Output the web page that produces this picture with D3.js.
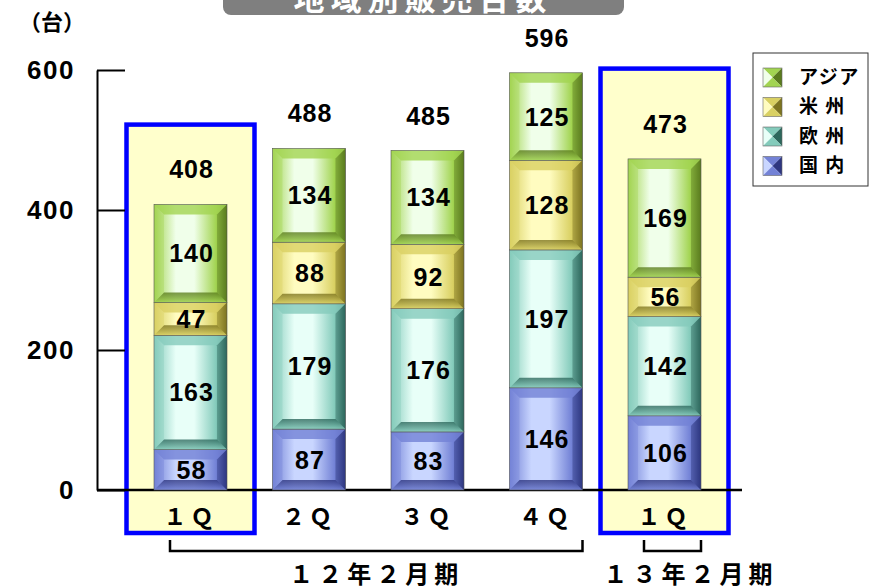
<!DOCTYPE html>
<html lang="ja">
<head>
<meta charset="utf-8">
<title>地域別販売台数</title>
<script src="https://d3js.org/d3.v7.js"></script>
<style>
  body { margin: 0; background: #fff; }
  text { font-family: "Liberation Sans", "Noto Sans CJK JP", sans-serif; font-weight: bold; }
  .jp { font-family: "Noto Sans CJK JP", sans-serif; }
</style>
</head>
<body>
<div id="chart"></div>
<script>
// data
const ids = ["12-1Q", "12-2Q", "12-3Q", "12-4Q", "13-1Q"];
const quarterLabels = ["１Ｑ", "２Ｑ", "３Ｑ", "４Ｑ", "１Ｑ"];
const domestic = [58, 87, 83, 146, 106];   // 国内
const europe = [163, 179, 176, 197, 142];  // 欧州
const americas = [47, 88, 92, 128, 56];    // 米州
const asia = [140, 134, 134, 125, 169];    // アジア
const totals = [408, 488, 485, 596, 473];
const yTicks = [0, 200, 400, 600];
const seriesNames = ["国内", "欧州", "米州", "アジア"];
const legendKeys = ["アジア", "米州", "欧州", "国内"];
const legendNames = ["アジア", "米 州", "欧 州", "国 内"];
const fiscalGroups = [
  { label: "１２年２月期", from: 0, to: 3 },
  { label: "１３年２月期", from: 4, to: 4 }
];
const highlighted = [{ idx: 0, top: 522 }, { idx: 4, top: 602 }];

// colours per series: mid, light, dark
const palette = {
  "国内": { mid: "#7382d6", light: "#c9d6ff", dark: "#2e3680" },
  "欧州": { mid: "#84cbbb", light: "#e8fff8", dark: "#2d675c" },
  "米州": { mid: "#d9d062", light: "#fffcc0", dark: "#7d7420" },
  "アジア": { mid: "#a2d451", light: "#f0ffea", dark: "#5a7b1e" }
};

const W = 870, H = 586;
const svg = d3.select("#chart").append("svg")
  .attr("width", W).attr("height", H);

const defs = svg.append("defs");
seriesNames.forEach((s, i) => {
  const c = palette[s];
  const g = defs.append("linearGradient").attr("id", "grad" + i)
    .attr("x1", "0%").attr("x2", "100%").attr("y1", "0%").attr("y2", "0%");
  g.append("stop").attr("offset", "0%").attr("stop-color", c.mid);
  g.append("stop").attr("offset", "30%").attr("stop-color", c.light);
  g.append("stop").attr("offset", "55%").attr("stop-color", c.light);
  g.append("stop").attr("offset", "85%").attr("stop-color", c.mid);
  g.append("stop").attr("offset", "100%").attr("stop-color", c.dark);
  const gb = defs.append("linearGradient").attr("id", "bot" + i)
    .attr("x1", "0%").attr("x2", "0%").attr("y1", "0%").attr("y2", "100%");
  gb.append("stop").attr("offset", "0%").attr("stop-color", c.dark).attr("stop-opacity", 0.8);
  gb.append("stop").attr("offset", "100%").attr("stop-color", c.mid).attr("stop-opacity", 0.9);
});

const x = d3.scaleBand().domain(ids).range([154, 701]).paddingInner(0.384).paddingOuter(0);
const y = d3.scaleLinear().domain([0, 600]).range([490, 70]);
const bw = x.bandwidth();

// title (cut off by the top edge)
svg.append("rect").attr("x", 223).attr("y", -25).attr("width", 401).attr("height", 40)
  .attr("rx", 8).attr("fill", "#7f7f7f");
svg.append("text").attr("class", "jp").attr("x", 423).attr("y", 10)
  .attr("text-anchor", "middle").attr("font-size", 31).attr("letter-spacing", 6)
  .attr("fill", "#fff").text("地域別販売台数");

// highlight boxes
svg.selectAll(".hl").data(highlighted).join("rect")
  .attr("class", "hl")
  .attr("x", d => x(ids[d.idx]) + bw / 2 - 64)
  .attr("y", d => y(d.top))
  .attr("width", 128)
  .attr("height", d => 533 - y(d.top))
  .attr("fill", "#ffffcc").attr("stroke", "#0000ff").attr("stroke-width", 4.5);

// y axis: line + inward ticks
svg.append("g").attr("transform", "translate(97,0)")
  .call(d3.axisRight(y).tickValues(yTicks).tickSize(28).tickSizeOuter(0).tickFormat(""))
  .call(g => g.selectAll("path,line").attr("stroke", "#000").attr("stroke-width", 2));
svg.selectAll(".ylab").data(yTicks).join("text")
  .attr("class", "ylab")
  .attr("x", 75).attr("y", d => y(d)).attr("dy", "0.36em")
  .attr("text-anchor", "end").attr("font-size", 26).attr("letter-spacing", 1.5)
  .text(d => d);
svg.append("text").attr("class", "jp").attr("x", 52).attr("y", 30)
  .attr("text-anchor", "middle").attr("font-size", 22).text("（台）");

// baseline
svg.append("line").attr("x1", 97).attr("x2", 742).attr("y1", y(0)).attr("y2", y(0))
  .attr("stroke", "#000").attr("stroke-width", 2.5);

// stacked bars
const rows = ids.map((id, i) => ({ id, "国内": domestic[i], "欧州": europe[i], "米州": americas[i], "アジア": asia[i] }));
const stacked = d3.stack().keys(seriesNames)(rows);

stacked.forEach((layer, si) => {
  const c = palette[layer.key];
  const g = svg.append("g");
  layer.forEach((d, i) => {
    const x0 = x(ids[i]), x1 = x0 + bw;
    const yt = y(d[1]), yb = y(d[0]);
    const h = yb - yt;
    const b = Math.min(10, h / 3.2);
    const seg = g.append("g");
    seg.append("rect").attr("x", x0).attr("y", yt).attr("width", bw).attr("height", h)
      .attr("fill", `url(#grad${si})`);
    // top bevel
    seg.append("path")
      .attr("d", d3.line()([[x0, yt], [x1, yt], [x1 - b, yt + b], [x0 + b, yt + b]]) + "Z")
      .attr("fill", c.mid).attr("opacity", 0.8);
    // bottom bevel
    seg.append("path")
      .attr("d", d3.line()([[x0, yb], [x1, yb], [x1 - b, yb - b], [x0 + b, yb - b]]) + "Z")
      .attr("fill", `url(#bot${si})`);
    // side bevels
    seg.append("path")
      .attr("d", d3.line()([[x0, yt], [x0 + b, yt + b], [x0 + b, yb - b], [x0, yb]]) + "Z")
      .attr("fill", c.mid).attr("opacity", 0.35);
    seg.append("path")
      .attr("d", d3.line()([[x1, yt], [x1 - b, yt + b], [x1 - b, yb - b], [x1, yb]]) + "Z")
      .attr("fill", c.dark).attr("opacity", 0.4);
    seg.append("rect").attr("x", x0).attr("y", yt).attr("width", bw).attr("height", h)
      .attr("fill", "none").attr("stroke", "#555").attr("stroke-width", 0.6);
    seg.append("text").attr("x", x0 + bw / 2 + 1).attr("y", (yt + yb) / 2).attr("dy", "0.36em")
      .attr("text-anchor", "middle").attr("font-size", 25).attr("letter-spacing", 1)
      .text(d.data[layer.key]);
  });
});

// totals
svg.selectAll(".tot").data(totals).join("text")
  .attr("class", "tot")
  .attr("x", (d, i) => x(ids[i]) + bw / 2 + 1)
  .attr("y", d => y(d) - 35).attr("dy", "0.36em")
  .attr("text-anchor", "middle").attr("font-size", 25).attr("letter-spacing", 1)
  .text(d => d);

// quarter labels
svg.selectAll(".ql").data(quarterLabels).join("text")
  .attr("class", "ql jp")
  .attr("x", (d, i) => x(ids[i]) + bw / 2)
  .attr("y", 517).attr("dy", "0.36em")
  .attr("text-anchor", "middle").attr("font-size", 23).attr("letter-spacing", 4)
  .text(d => d);

// fiscal-year brackets
fiscalGroups.forEach((gr, i) => {
  const l = x(ids[gr.from]) + 16, r = x(ids[gr.to]) + bw;
  svg.append("path")
    .attr("d", d3.line()([[l, 540], [l, 551], [r, 551], [r, 540]]))
    .attr("fill", "none").attr("stroke", "#000").attr("stroke-width", 2.5);
  svg.append("text").attr("class", "jp")
    .attr("x", (l + r) / 2 + (i === 1 ? 18 : 0)).attr("y", 574).attr("dy", "0.36em")
    .attr("text-anchor", "middle").attr("font-size", 24).attr("letter-spacing", 5)
    .text(gr.label);
});

// legend
const lg = svg.append("g");
lg.append("rect").attr("x", 753).attr("y", 53).attr("width", 115).attr("height", 133)
  .attr("fill", "#fff").attr("stroke", "#333").attr("stroke-width", 1);
legendKeys.forEach((k, i) => {
  const c = palette[k];
  const cy = 77 + i * 29.5;
  const sx = 763, sy = cy - 9, s = 19;
  const cx = sx + s / 2, cyy = sy + s / 2;
  const tri = (pts, fill) => lg.append("path").attr("d", d3.line()(pts) + "Z").attr("fill", fill);
  tri([[sx, sy], [sx + s, sy], [cx, cyy]], c.mid);
  tri([[sx, sy], [cx, cyy], [sx, sy + s]], c.light);
  tri([[sx + s, sy], [sx + s, sy + s], [cx, cyy]], c.dark);
  tri([[sx, sy + s], [sx + s, sy + s], [cx, cyy]], c.mid);
  lg.append("rect").attr("x", sx).attr("y", sy).attr("width", s).attr("height", s)
    .attr("fill", "none").attr("stroke", "#666").attr("stroke-width", 0.6);
  lg.append("text").attr("class", "jp").attr("x", 799).attr("y", cy).attr("dy", "0.36em")
    .attr("font-size", 19).attr("letter-spacing", 1.5).text(legendNames[i]);
});
</script>
</body>
</html>
